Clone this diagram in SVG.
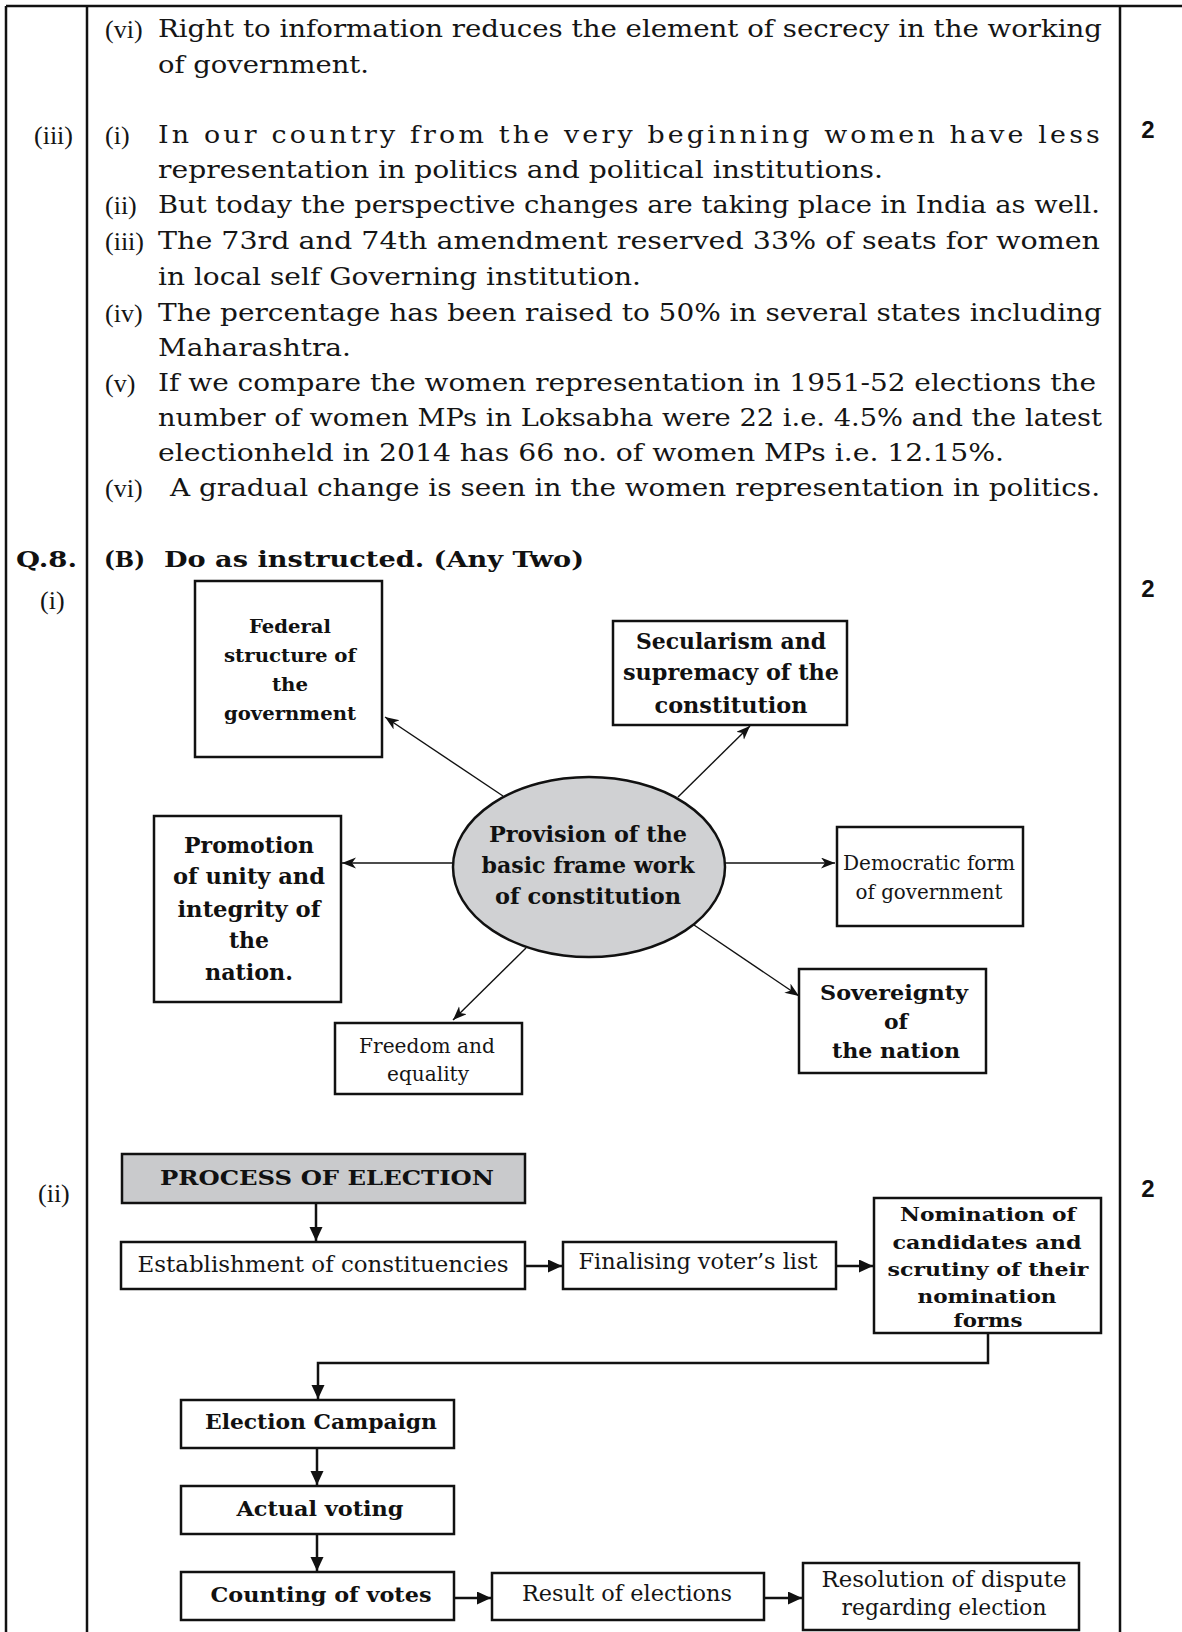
<svg xmlns="http://www.w3.org/2000/svg" width="1182" height="1632" viewBox="0 0 1182 1632">
<style>
.frame{stroke:#111;stroke-width:2.5;fill:none}
.body{font-family:"DejaVu Serif","Liberation Serif",serif;font-size:24px;fill:#151515}
.lab{font-family:"Liberation Serif","DejaVu Serif",serif;font-size:26px;fill:#151515}
.mark{font-family:"Liberation Sans",Arial,sans-serif;font-weight:bold;font-size:24px;fill:#111;text-anchor:middle}
.hb{font-family:"DejaVu Serif","Liberation Serif",serif;font-weight:bold;font-size:23px;fill:#111}
.box{fill:#fff;stroke:#111;stroke-width:2.5}
.gray{fill:#c9cacc}
.bt{font-family:"DejaVu Serif","Liberation Serif",serif;font-weight:bold;fill:#111;text-anchor:middle}
.rt{font-family:"DejaVu Serif","Liberation Serif",serif;fill:#151515;text-anchor:middle}
.thin{stroke:#111;stroke-width:1.4;fill:none;marker-end:url(#ah1)}
.thick{stroke:#111;stroke-width:2.5;fill:none;marker-end:url(#ah2)}
</style>
<defs>
<marker id="ah1" markerUnits="userSpaceOnUse" markerWidth="16" markerHeight="12" refX="14" refY="5.5" orient="auto">
<path d="M0,0 L14,5.5 L0,11 L4,5.5 Z" fill="#111"/>
</marker>
<marker id="ah2" markerUnits="userSpaceOnUse" markerWidth="16" markerHeight="14" refX="14" refY="6.5" orient="auto">
<path d="M0,0 L14,6.5 L0,13 Z" fill="#111"/>
</marker>
</defs>

<g id="frame">
<path class="frame" d="M6,6 H1182 M6,6 V1632 M87,6 V1632 M1120,6 V1632"/>
</g>

<g id="text-body">
<text class="lab" x="105" y="38">(vi)</text>
<text class="body" x="158" y="37" textLength="944" lengthAdjust="spacingAndGlyphs">Right to information reduces the element of secrecy in the working</text>
<text class="body" x="158" y="73" textLength="211" lengthAdjust="spacingAndGlyphs">of government.</text>
<text class="lab" x="34" y="144">(iii)</text>
<text class="lab" x="105" y="144">(i)</text>
<text class="body" transform="translate(158,143) scale(1.12,1)" x="0" y="0" textLength="841" lengthAdjust="spacing">In our country from the very beginning women have less</text>
<text class="body" x="158" y="178" textLength="725" lengthAdjust="spacingAndGlyphs">representation in politics and political institutions.</text>
<text class="lab" x="105" y="214">(ii)</text>
<text class="body" x="158" y="213" textLength="942" lengthAdjust="spacingAndGlyphs">But today the perspective changes are taking place in India as well.</text>
<text class="lab" x="105" y="250">(iii)</text>
<text class="body" x="158" y="249" textLength="942" lengthAdjust="spacingAndGlyphs">The 73rd and 74th amendment reserved 33% of seats for women</text>
<text class="body" x="158" y="285" textLength="483" lengthAdjust="spacingAndGlyphs">in local self Governing institution.</text>
<text class="lab" x="105" y="322">(iv)</text>
<text class="body" x="158" y="321" textLength="944" lengthAdjust="spacingAndGlyphs">The percentage has been raised to 50% in several states including</text>
<text class="body" x="158" y="356" textLength="193" lengthAdjust="spacingAndGlyphs">Maharashtra.</text>
<text class="lab" x="105" y="392">(v)</text>
<text class="body" x="158" y="391" textLength="938" lengthAdjust="spacingAndGlyphs">If we compare the women representation in 1951-52 elections the</text>
<text class="body" x="158" y="426" textLength="944" lengthAdjust="spacingAndGlyphs">number of women MPs in Loksabha were 22 i.e. 4.5% and the latest</text>
<text class="body" x="158" y="461" textLength="846" lengthAdjust="spacingAndGlyphs">electionheld in 2014 has 66 no. of women MPs i.e. 12.15%.</text>
<text class="lab" x="105" y="497">(vi)</text>
<text class="body" x="170" y="496" textLength="930" lengthAdjust="spacingAndGlyphs">A gradual change is seen in the women representation in politics.</text>
<text class="mark" x="1148" y="138">2</text>
<text class="hb" x="16" y="567" textLength="61" lengthAdjust="spacingAndGlyphs">Q.8.</text>
<text class="hb" x="104" y="567" textLength="41" lengthAdjust="spacingAndGlyphs">(B)</text>
<text class="hb" x="164" y="567" textLength="420" lengthAdjust="spacingAndGlyphs">Do as instructed. (Any Two)</text>
<text class="lab" x="40" y="609">(i)</text>
<text class="mark" x="1148" y="597">2</text>
<text class="lab" x="38" y="1202">(ii)</text>
<text class="mark" x="1148" y="1197">2</text>
</g>

<g id="connectors">
<path class="thin" d="M503,796 L385,717"/>
<path class="thin" d="M678,797 L750,726"/>
<path class="thin" d="M453,863 L342,863"/>
<path class="thin" d="M725,863 L835,863"/>
<path class="thin" d="M526,948 L453,1020"/>
<path class="thin" d="M694,925 L799,996"/>
<path class="thick" d="M316,1203 V1241"/>
<path class="thick" d="M525,1266 H562"/>
<path class="thick" d="M836,1266 H873"/>
<path class="thick" d="M988,1333 V1363 H318 V1399"/>
<path class="thick" d="M317,1448 V1485"/>
<path class="thick" d="M317,1534 V1571"/>
<path class="thick" d="M454,1598 H491"/>
<path class="thick" d="M764,1598 H802"/>
</g>

<g id="n-federal">
<rect class="box" x="195" y="581" width="187" height="176"/>
<text class="bt" font-size="19" x="290" y="633" textLength="82" lengthAdjust="spacingAndGlyphs">Federal</text>
<text class="bt" font-size="19" x="290" y="662" textLength="132" lengthAdjust="spacingAndGlyphs">structure of</text>
<text class="bt" font-size="19" x="290" y="691" textLength="36" lengthAdjust="spacingAndGlyphs">the</text>
<text class="bt" font-size="19" x="290" y="720" textLength="132" lengthAdjust="spacingAndGlyphs">government</text>
</g>

<g id="n-secularism">
<rect class="box" x="613" y="621" width="234" height="104"/>
<text class="bt" font-size="22" x="731" y="649" textLength="190" lengthAdjust="spacingAndGlyphs">Secularism and</text>
<text class="bt" font-size="22" x="731" y="680" textLength="216" lengthAdjust="spacingAndGlyphs">supremacy of the</text>
<text class="bt" font-size="22" x="731" y="713" textLength="153" lengthAdjust="spacingAndGlyphs">constitution</text>
</g>

<g id="n-promotion">
<rect class="box" x="154" y="816" width="187" height="186"/>
<text class="bt" font-size="22" x="249" y="853" textLength="130" lengthAdjust="spacingAndGlyphs">Promotion</text>
<text class="bt" font-size="22" x="249" y="884" textLength="152" lengthAdjust="spacingAndGlyphs">of unity and</text>
<text class="bt" font-size="22" x="249" y="917" textLength="143" lengthAdjust="spacingAndGlyphs">integrity of</text>
<text class="bt" font-size="22" x="249" y="948" textLength="40" lengthAdjust="spacingAndGlyphs">the</text>
<text class="bt" font-size="22" x="249" y="980" textLength="88" lengthAdjust="spacingAndGlyphs">nation.</text>
</g>

<g id="n-provision">
<ellipse cx="589" cy="867" rx="136" ry="90" fill="#d0d1d3" stroke="#111" stroke-width="2.5"/>
<text class="bt" font-size="22" x="588" y="842" textLength="198" lengthAdjust="spacingAndGlyphs">Provision of the</text>
<text class="bt" font-size="22" x="588" y="873" textLength="213" lengthAdjust="spacingAndGlyphs">basic frame work</text>
<text class="bt" font-size="22" x="588" y="904" textLength="186" lengthAdjust="spacingAndGlyphs">of constitution</text>
</g>

<g id="n-democratic">
<rect class="box" x="837" y="827" width="186" height="99"/>
<text class="rt" font-size="20" x="929" y="870" textLength="172" lengthAdjust="spacingAndGlyphs">Democratic form</text>
<text class="rt" font-size="20" x="929" y="899" textLength="147" lengthAdjust="spacingAndGlyphs">of government</text>
</g>

<g id="n-sovereignty">
<rect class="box" x="799" y="969" width="187" height="104"/>
<text class="bt" font-size="21" x="894" y="1000" textLength="148" lengthAdjust="spacingAndGlyphs">Sovereignty</text>
<text class="bt" font-size="21" x="896" y="1029" textLength="24" lengthAdjust="spacingAndGlyphs">of</text>
<text class="bt" font-size="21" x="896" y="1058" textLength="128" lengthAdjust="spacingAndGlyphs">the nation</text>
</g>

<g id="n-freedom">
<rect class="box" x="335" y="1023" width="187" height="71"/>
<text class="rt" font-size="20" x="427" y="1053" textLength="136" lengthAdjust="spacingAndGlyphs">Freedom and</text>
<text class="rt" font-size="20" x="428" y="1081" textLength="82" lengthAdjust="spacingAndGlyphs">equality</text>
</g>

<g id="n-process">
<rect class="box gray" x="122" y="1154" width="403" height="49"/>
<text class="bt" font-size="21" x="327" y="1185" textLength="334" lengthAdjust="spacingAndGlyphs">PROCESS OF ELECTION</text>
</g>

<g id="n-establishment">
<rect class="box" x="121" y="1242" width="404" height="47"/>
<text class="rt" font-size="22" x="323" y="1272" textLength="371" lengthAdjust="spacingAndGlyphs">Establishment of constituencies</text>
</g>

<g id="n-finalising">
<rect class="box" x="563" y="1242" width="273" height="47"/>
<text class="rt" font-size="22" x="698" y="1269" textLength="239" lengthAdjust="spacingAndGlyphs">Finalising voter’s list</text>
</g>

<g id="n-nomination">
<rect class="box" x="874" y="1198" width="227" height="135"/>
<text class="bt" font-size="19" x="988" y="1221" textLength="176" lengthAdjust="spacingAndGlyphs">Nomination of</text>
<text class="bt" font-size="19" x="987" y="1249" textLength="189" lengthAdjust="spacingAndGlyphs">candidates and</text>
<text class="bt" font-size="19" x="988" y="1276" textLength="201" lengthAdjust="spacingAndGlyphs">scrutiny of their</text>
<text class="bt" font-size="19" x="987" y="1303" textLength="139" lengthAdjust="spacingAndGlyphs">nomination</text>
<text class="bt" font-size="19" x="988" y="1327" textLength="69" lengthAdjust="spacingAndGlyphs">forms</text>
</g>

<g id="n-campaign">
<rect class="box" x="181" y="1400" width="273" height="48"/>
<text class="bt" font-size="20" x="321" y="1429" textLength="232" lengthAdjust="spacingAndGlyphs">Election Campaign</text>
</g>

<g id="n-voting">
<rect class="box" x="181" y="1486" width="273" height="48"/>
<text class="bt" font-size="20" x="320" y="1516" textLength="167" lengthAdjust="spacingAndGlyphs">Actual voting</text>
</g>

<g id="n-counting">
<rect class="box" x="181" y="1572" width="273" height="48"/>
<text class="bt" font-size="20" x="321" y="1602" textLength="221" lengthAdjust="spacingAndGlyphs">Counting of votes</text>
</g>

<g id="n-result">
<rect class="box" x="492" y="1573" width="272" height="47"/>
<text class="rt" font-size="22" x="627" y="1601" textLength="210" lengthAdjust="spacingAndGlyphs">Result of elections</text>
</g>

<g id="n-resolution">
<rect class="box" x="803" y="1563" width="276" height="67"/>
<text class="rt" font-size="22" x="944" y="1587" textLength="245" lengthAdjust="spacingAndGlyphs">Resolution of dispute</text>
<text class="rt" font-size="22" x="944" y="1615" textLength="205" lengthAdjust="spacingAndGlyphs">regarding election</text>
</g>
</svg>
